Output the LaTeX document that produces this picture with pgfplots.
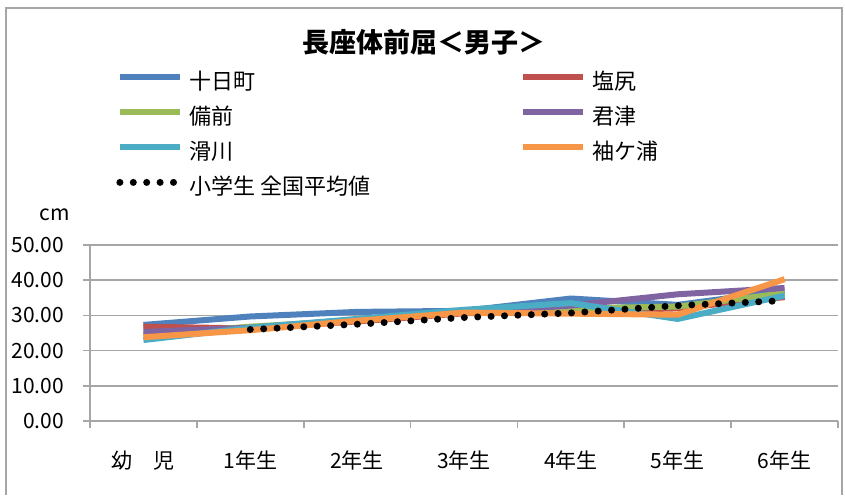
\documentclass[border=0pt]{standalone}
\usepackage{fontspec}
\setmainfont{Noto Sans CJK JP}
\usepackage{pgfplots}
\pgfplotsset{compat=1.18}
\definecolor{sBlue}{HTML}{4F81BD}
\definecolor{sRed}{HTML}{C0504D}
\definecolor{sGreen}{HTML}{9BBB59}
\definecolor{sPurple}{HTML}{8064A2}
\definecolor{sAqua}{HTML}{4BACC6}
\definecolor{sOrange}{HTML}{F79646}
\definecolor{gridgray}{HTML}{A6A6A6}

\begin{document}
\begin{tikzpicture}
  % page = 845x495 px at 0.5pt per px, axis box south west at px (90,421)
  \useasboundingbox (-45pt,-37pt) rectangle (377.5pt,210.5pt);
  \node[font=\bfseries\fontsize{13.5}{16}\selectfont] at (167pt,189.5pt) {長座体前屈＜男子＞};
  \node[font=\fontsize{10.5}{12}\selectfont] at (-17.5pt,103pt) {cm};
  \begin{axis}[
    at={(0pt,0pt)}, anchor=south west,
    scale only axis,
    width=374pt, height=88pt,
    xmin=-0.5, xmax=6.5,
    ymin=0, ymax=50,
    ytick={0,10,...,50},
    xtick={0,...,6},
    xticklabels={幼　児,1年生,2年生,3年生,4年生,5年生,6年生},
    minor xtick={-0.5,0.5,...,6.5},
    major x tick style={draw=none},
    minor x tick style={gridgray, line width=0.8pt},
    major y tick style={gridgray, line width=0.8pt},
    major tick length=3.5pt,
    minor tick length=3.5pt,
    tick align=outside,
    axis lines*=left,
    axis line style={gridgray, line width=0.8pt},
    ymajorgrids,
    grid style={gridgray, line width=0.8pt},
    font=\fontsize{10.5}{12}\selectfont,
    /pgf/number format/assume math mode=true,
    yticklabel style={/pgf/number format/fixed, /pgf/number format/fixed zerofill, /pgf/number format/precision=2, xshift=-6pt},
    xticklabel style={yshift=-8pt},
    legend columns=2,
    legend cell align=left,
    legend style={
      at={(10pt,176pt)}, anchor=north west, draw=none, fill=none,
      font=\fontsize{11}{12}\selectfont,
      nodes={inner sep=0pt, text height=8pt, text depth=2pt},
      row sep=7.5pt,
      /tikz/every odd column/.append style={column sep=3pt},
      /tikz/every even column/.append style={column sep=75pt},
    },
    legend image code/.code={\draw[#1] (0pt,3pt) -- (30pt,3pt);},
    every axis plot/.append style={line width=3pt, line join=round},
  ]
    \addplot[sBlue] coordinates {(0,27.3) (1,29.7) (2,31.0) (3,31.3) (4,34.8) (5,33.0) (6,37.0)};
    \addlegendentry{十日町}
    \addplot[sRed] coordinates {(0,26.8) (1,26.3) (2,28.3) (3,30.6) (4,31.2) (5,32.0) (6,35.2)};
    \addlegendentry{塩尻}
    \addplot[sGreen] coordinates {(0,24.5) (1,26.8) (2,28.6) (3,30.8) (4,32.0) (5,32.5) (6,36.3)};
    \addlegendentry{備前}
    \addplot[sPurple] coordinates {(0,25.3) (1,26.5) (2,28.8) (3,30.8) (4,32.8) (5,36.0) (6,37.8)};
    \addlegendentry{君津}
    \addplot[sAqua] coordinates {(0,23.0) (1,26.5) (2,29.0) (3,31.6) (4,33.5) (5,29.0) (6,35.6)};
    \addlegendentry{滑川}
    \addplot[sOrange] coordinates {(0,23.8) (1,25.8) (2,28.5) (3,30.8) (4,30.5) (5,30.2) (6,40.3)};
    \addlegendentry{袖ケ浦}
    \addplot[black, line width=3.5pt, line cap=round, dash pattern=on 0pt off 6.7pt] coordinates {(1,26.0) (2,27.5) (3,29.4) (4,30.7) (5,32.8) (6,34.2)};
    \addlegendentry{小学生 全国平均値}
  \end{axis}
  \draw[gridgray, line width=1pt] (-42pt,-37pt) -- (-42pt,206.5pt) -- (376pt,206.5pt) -- (376pt,-37pt);
\end{tikzpicture}
\end{document}
